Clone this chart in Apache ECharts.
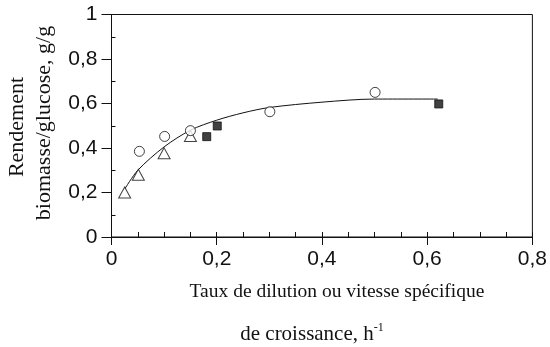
<!DOCTYPE html>
<html>
<head>
<meta charset="utf-8">
<script src="https://cdn.jsdelivr.net/npm/echarts@6/dist/echarts.min.js"></script>
<style>
  html, body { margin: 0; padding: 0; background: #fff; }
  #chart { width: 550px; height: 347px; }
</style>
</head>
<body>
<div id="chart"></div>
<script>
// Yield measurements (x: dilution rate h^-1, y: g/g)
const triangles = [[0.025, 0.20], [0.051, 0.28], [0.100, 0.376], [0.150, 0.454]];
const circles = [[0.053, 0.385], [0.101, 0.452], [0.150, 0.478], [0.301, 0.563], [0.501, 0.650]];
const squares = [[0.181, 0.451], [0.201, 0.499], [0.622, 0.598]];
// Fitted trend line
const curve = [[0.025, 0.215], [0.05, 0.30], [0.10, 0.405], [0.15, 0.48], [0.20, 0.525],
               [0.25, 0.558], [0.30, 0.582], [0.40, 0.606], [0.50, 0.62], [0.62, 0.62]];
const xTicks = [0, 0.2, 0.4, 0.6, 0.8];
const yTicks = [0, 0.2, 0.4, 0.6, 0.8, 1];
const yMinorTicks = [0.1, 0.3, 0.5, 0.7, 0.9];

const fmt = v => String(+v.toFixed(2)).replace('.', ',');
const sans = 'Liberation Sans, Arial, sans-serif';
const serif = 'Liberation Serif, Times New Roman, serif';
const ink = '#111';

const chart = echarts.init(document.getElementById('chart'), null, { renderer: 'canvas' });
chart.setOption({
  animation: false,
  backgroundColor: '#fff',
  grid: { left: 111.5, right: 16, top: 14.5, bottom: 110, show: true, borderColor: ink, borderWidth: 1, backgroundColor: 'transparent' },
  xAxis: [{
    type: 'value', min: 0, max: 0.8, interval: 0.2,
    axisLine: { show: true, onZero: false, lineStyle: { color: ink, width: 1 } },
    axisTick: { show: true, inside: false, length: 8, lineStyle: { color: ink } },
    axisLabel: { color: ink, fontFamily: sans, fontSize: 21, margin: 12, formatter: fmt, customValues: xTicks },
    splitLine: { show: false }
  }, {
    type: 'value', min: 0, max: 0.8, interval: 0.05, position: 'bottom',
    axisLine: { show: false },
    axisTick: { show: true, inside: true, length: 5, lineStyle: { color: ink } },
    axisLabel: { show: false },
    splitLine: { show: false }
  }],
  yAxis: [{
    type: 'value', min: 0, max: 1, interval: 0.2,
    axisLine: { show: true, onZero: false, lineStyle: { color: ink, width: 1 } },
    axisTick: { show: true, inside: false, length: 10, lineStyle: { color: ink } },
    axisLabel: { color: ink, fontFamily: sans, fontSize: 21, margin: 14, formatter: fmt, customValues: yTicks },
    splitLine: { show: false }
  }, {
    type: 'value', min: 0, max: 1, position: 'left',
    axisLine: { show: false },
    axisTick: { show: true, inside: true, length: 4, lineStyle: { color: ink }, customValues: yMinorTicks },
    axisLabel: { show: false },
    splitLine: { show: false }
  }],
  graphic: [
    { type: 'text', x: 17, y: 127, rotation: Math.PI / 2,
      style: { text: 'Rendement', font: '22px ' + serif, fill: ink, align: 'center', verticalAlign: 'middle' } },
    { type: 'text', x: 44, y: 123, rotation: Math.PI / 2,
      style: { text: 'biomasse/glucose, g/g', font: '22px ' + serif, fill: ink, align: 'center', verticalAlign: 'middle' } },
    { type: 'text', x: 337, y: 292,
      style: { text: 'Taux de dilution ou vitesse spécifique', font: '19.5px ' + serif, fill: ink, align: 'center', verticalAlign: 'middle' } },
    { type: 'text', x: 312, y: 334,
      style: { text: '{a|de croissance, h}{s|-1}', fill: ink, align: 'center', verticalAlign: 'middle',
        rich: {
          a: { fontFamily: serif, fontSize: 21, fill: ink },
          s: { fontFamily: serif, fontSize: 12, fill: ink, verticalAlign: 'top', padding: [0, 0, 12, 0] }
        } } }
  ],
  series: [
    { type: 'line', data: curve, smooth: 0.3, showSymbol: false, symbol: 'none',
      lineStyle: { color: ink, width: 1 }, z: 2 },
    { type: 'scatter', data: triangles, symbol: 'triangle', symbolSize: [12, 11],
      itemStyle: { color: '#fff', borderColor: ink, borderWidth: 1 }, z: 3 },
    { type: 'scatter', data: circles, symbol: 'circle', symbolSize: 10,
      itemStyle: { color: '#fff', borderColor: ink, borderWidth: 1 }, z: 3 },
    { type: 'scatter', data: squares, symbol: 'rect', symbolSize: 8,
      itemStyle: { color: ink, borderColor: ink, borderWidth: 1 }, z: 3 }
  ]
});
</script>
</body>
</html>
